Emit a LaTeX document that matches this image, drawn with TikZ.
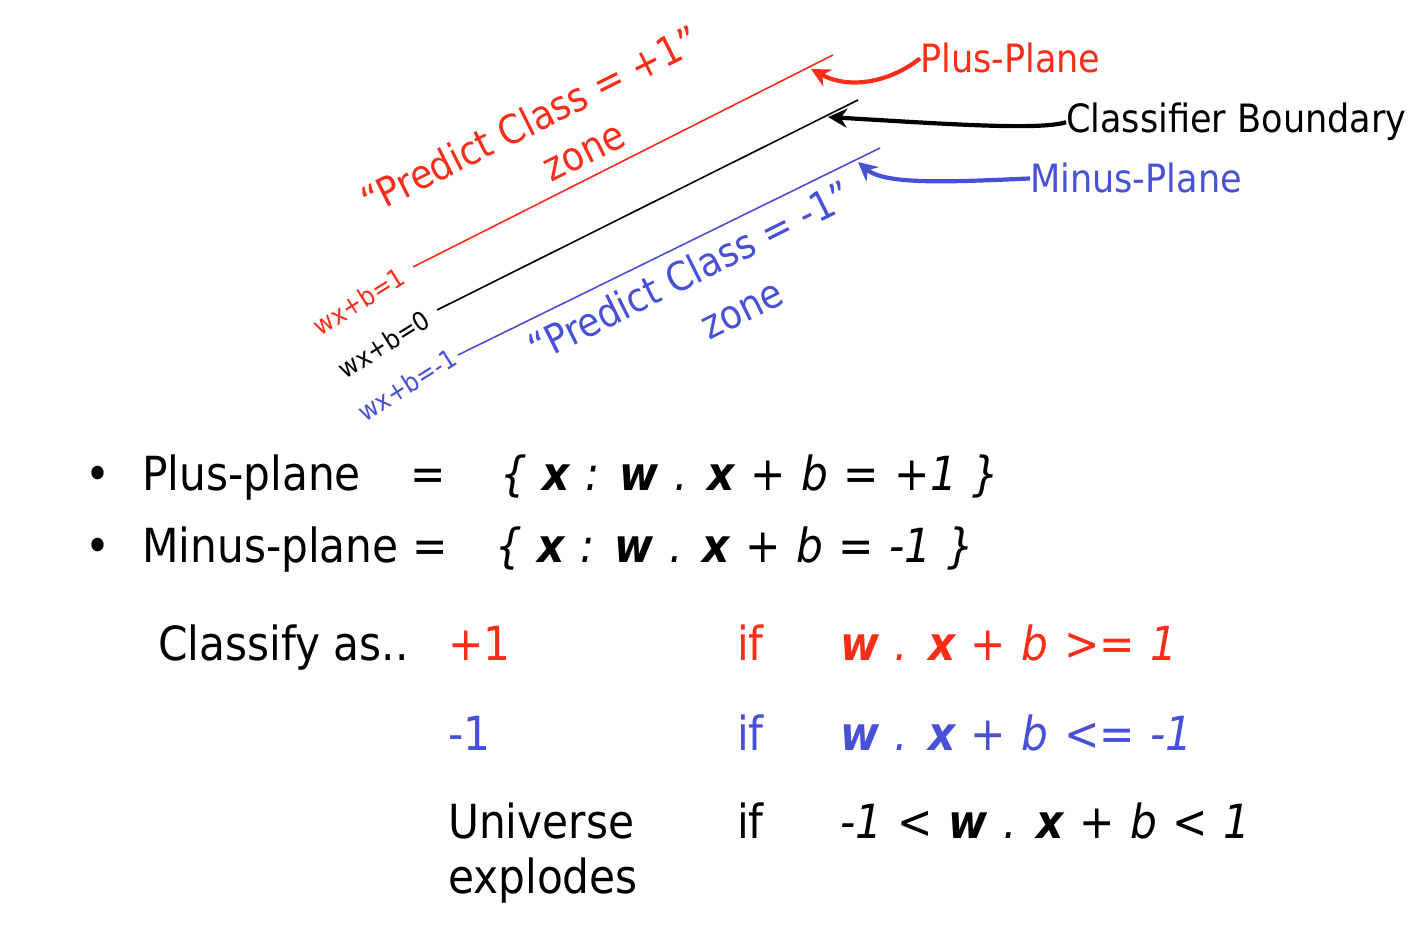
\documentclass[tikz,border=0pt]{standalone}
\usepackage{fontspec}
\setmainfont{DejaVu Sans Condensed}
\usetikzlibrary{arrows.meta}
\definecolor{pred}{RGB}{250,45,25}
\definecolor{pblue}{RGB}{72,80,215}
\newcommand\myformfont{\fontsize{47}{56}\selectfont\itshape\spaceskip=0.33em\relax}
\begin{document}
\begin{tikzpicture}[x=1pt,y=-1pt,
  big/.style={font=\fontsize{47}{56}\selectfont, inner sep=0pt},
  formula/.style={inner sep=0pt, font=\myformfont},
  mid/.style={font=\fontsize{39}{44}\selectfont, inner sep=0pt},
  small/.style={font=\fontsize{26}{28}\selectfont, inner sep=0pt, rotate=32},
  zone/.style={font=\fontsize{40}{42}\selectfont, inner sep=0pt, rotate=26.5},
  plane/.style={line width=1.6pt},
  pointer/.style={line width=4.2pt, -{Stealth[length=19pt,width=19pt]}}]
\useasboundingbox (0,0) rectangle (1423,933);
% planes
\coordinate (r1) at (413,267); \coordinate (r2) at (833,55);
\coordinate (k1) at (437,310); \coordinate (k2) at (858,100);
\coordinate (b1) at (458,355); \coordinate (b2) at (880,148);
\draw[plane,pred] (r1) -- (r2);
\draw[plane,black] (k1) -- (k2);
\draw[plane,pblue] (b1) -- (b2);
\node[small,pred] (lr) at (359,301) {wx+b=1};
\node[small,black] (lk) at (384,344) {wx+b=0};
\node[small,pblue] (lb) at (407,385) {wx+b=-1};
\node[zone,pred] (zp) at (530,120) {“Predict Class = +1”};
\node[zone,pred] (zp2) at (585,154) {zone};
\node[zone,pblue] (zm) at (690,271) {“Predict Class = -1”};
\node[zone,pblue] (zm2) at (743,312) {zone};
% labels and pointers
\node[mid,pred,anchor=base west] (pp) at (920,73) {Plus-Plane};
\node[mid,black,anchor=base west] (cb) at (1066,133) {Classifier Boundary};
\node[mid,pblue,anchor=base west] (mp) at (1030,193) {Minus-Plane};
\coordinate (ar) at (811,69);
\coordinate (ak) at (828,117);
\coordinate (ab) at (858,162);
\draw[pointer,pred] (pp.west) .. controls (890,82) and (850,90) .. (ar);
\draw[pointer,black] (cb.west) .. controls (1040,130) and (960,125) .. (ak);
\draw[pointer,pblue] (mp.west) .. controls (950,182) and (885,185) .. (ab);
% bullets
\node[big,anchor=base west] (bu1) at (85,490) {•};
\node[big,anchor=base west] (t1) at (142,490) {Plus-plane};
\node[big,anchor=base west] (e1) at (410,490) {=};
\node[formula,anchor=base west] (f1) at (500,490) {\{ \textbf{x} : \textbf{w} . \textbf{x} + b = +1 \}};
\node[big,anchor=base west] (bu2) at (85,562) {•};
\node[big,anchor=base west] (t2) at (142,562) {Minus-plane =};
\node[formula,anchor=base west] (f2) at (495,562) {\{ \textbf{x} : \textbf{w} . \textbf{x} + b = -1 \}};
% classify table
\node[big,anchor=base west] (ca) at (158,660) {Classify as..};
\node[big,anchor=base west,pred] (c1) at (448,660) {+1};
\node[big,anchor=base west,pred] (i1) at (737,660) {if};
\node[formula,anchor=base west,pred] (g1) at (840,660) {\textbf{w} . \textbf{x} + b >= 1};
\node[big,anchor=base west,pblue] (c2) at (448,750) {-1};
\node[big,anchor=base west,pblue] (i2) at (737,750) {if};
\node[formula,anchor=base west,pblue] (g2) at (840,750) {\textbf{w} . \textbf{x} + b <= -1};
\node[big,anchor=base west] (c3) at (448,838) {Universe};
\node[big,anchor=base west] (c3b) at (448,893) {explodes};
\node[big,anchor=base west] (i3) at (737,838) {if};
\node[formula,anchor=base west] (g3) at (840,838) {-1 < \textbf{w} . \textbf{x} + b < 1};
\end{tikzpicture}
\end{document}
